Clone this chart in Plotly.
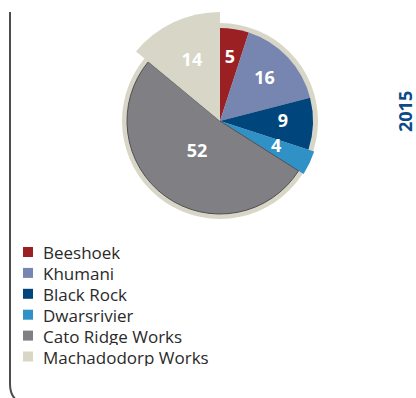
import plotly.graph_objects as go

# ---- data ----
names = ["Beeshoek", "Khumani", "Black Rock", "Dwarsrivier", "Cato Ridge Works", "Machadodorp Works"]
values = [5, 16, 9, 4, 52, 14]
year_label = "2015"

# ---- style ----
colors = ["#9a2024", "#7786b0", "#01457d", "#2f91c6", "#808084", "#d8d6c6"]
ring_color = "#d8d6c6"
W, H = 416, 398
CX, CY = 220, 121          # pie centre in px (from top-left)
R_AXIS = 110               # radial axis range == px radius of polar area
slice_r = [93, 93, 93, 99, 93, 109]
ring_r = 98
label_r = [63, 61, 63, 62, 39, 66]
LEG_X0, LEG_Y0, LEG_DY = 23, 252, 20.9

total = sum(values)
starts = []
acc = 0
for v in values:
    starts.append(acc)
    acc += v
mid_theta = [(s + v / 2) / total * 360 for s, v in zip(starts, values)]
widths = [v / total * 360 for v in values]

fig = go.Figure()

# beige ring behind the pie
fig.add_trace(go.Barpolar(r=[ring_r], theta=[180], width=[360],
                          marker=dict(color=ring_color, line=dict(width=0)),
                          showlegend=False, hoverinfo="skip"))

for i, n in enumerate(names):
    line = dict(width=0)
    if n == "Cato Ridge Works":
        line = dict(width=1, color="#4e4e52")
    fig.add_trace(go.Barpolar(
        r=[slice_r[i]], theta=[mid_theta[i]], width=[widths[i]],
        name=n, marker=dict(color=colors[i], line=line), showlegend=False,
        hovertemplate=f"{n}: {values[i]}<extra></extra>"))

fig.add_trace(go.Scatterpolar(
    r=label_r, theta=mid_theta, mode="text",
    text=[str(v) for v in values],
    textfont=dict(family="Open Sans", size=18, color="white", weight="bold"),
    showlegend=False, hoverinfo="skip"))

def px(x):
    return x / W

def py(y):
    return 1 - y / H

shapes = [dict(type="path", xref="paper", yref="paper",
               path=f"M {px(10)},{py(12)} L {px(10)},{py(384)} Q {px(10)},{py(400)} {px(24)},{py(404)}",
               line=dict(color="#4d4d4d", width=2))]
annotations = [dict(text=f"<b>{year_label}</b>", xref="paper", yref="paper",
                    x=px(405), y=py(112), xanchor="center", yanchor="middle",
                    showarrow=False, textangle=-90,
                    font=dict(family="Open Sans", size=18, color="#0b4a86"))]

# manual legend (squares + labels)
for i, n in enumerate(names):
    yc = LEG_Y0 + i * LEG_DY
    shapes.append(dict(type="rect", xref="paper", yref="paper",
                       x0=px(LEG_X0), x1=px(LEG_X0 + 10), y0=py(yc + 5), y1=py(yc - 5),
                       fillcolor=colors[i], line=dict(width=0)))
    annotations.append(dict(text=n, xref="paper", yref="paper", x=px(LEG_X0 + 19), y=py(yc),
                            xanchor="left", yanchor="middle", showarrow=False,
                            height=18, borderpad=0,
                            font=dict(family="Open Sans", size=17, color="#2a2a2a")))

fig.update_layout(
    width=W, height=H,
    margin=dict(l=0, r=0, t=0, b=0),
    paper_bgcolor="white", plot_bgcolor="white",
    polar=dict(
        domain=dict(x=[px(CX - R_AXIS), px(CX + R_AXIS)],
                    y=[py(CY + R_AXIS), py(CY - R_AXIS)]),
        bgcolor="rgba(0,0,0,0)",
        radialaxis=dict(visible=False, range=[0, R_AXIS]),
        angularaxis=dict(visible=False, direction="clockwise", rotation=90),
        bargap=0,
    ),
    showlegend=False,
    font=dict(family="Open Sans"),
    shapes=shapes,
    annotations=annotations,
)

fig.write_html("out.html")
